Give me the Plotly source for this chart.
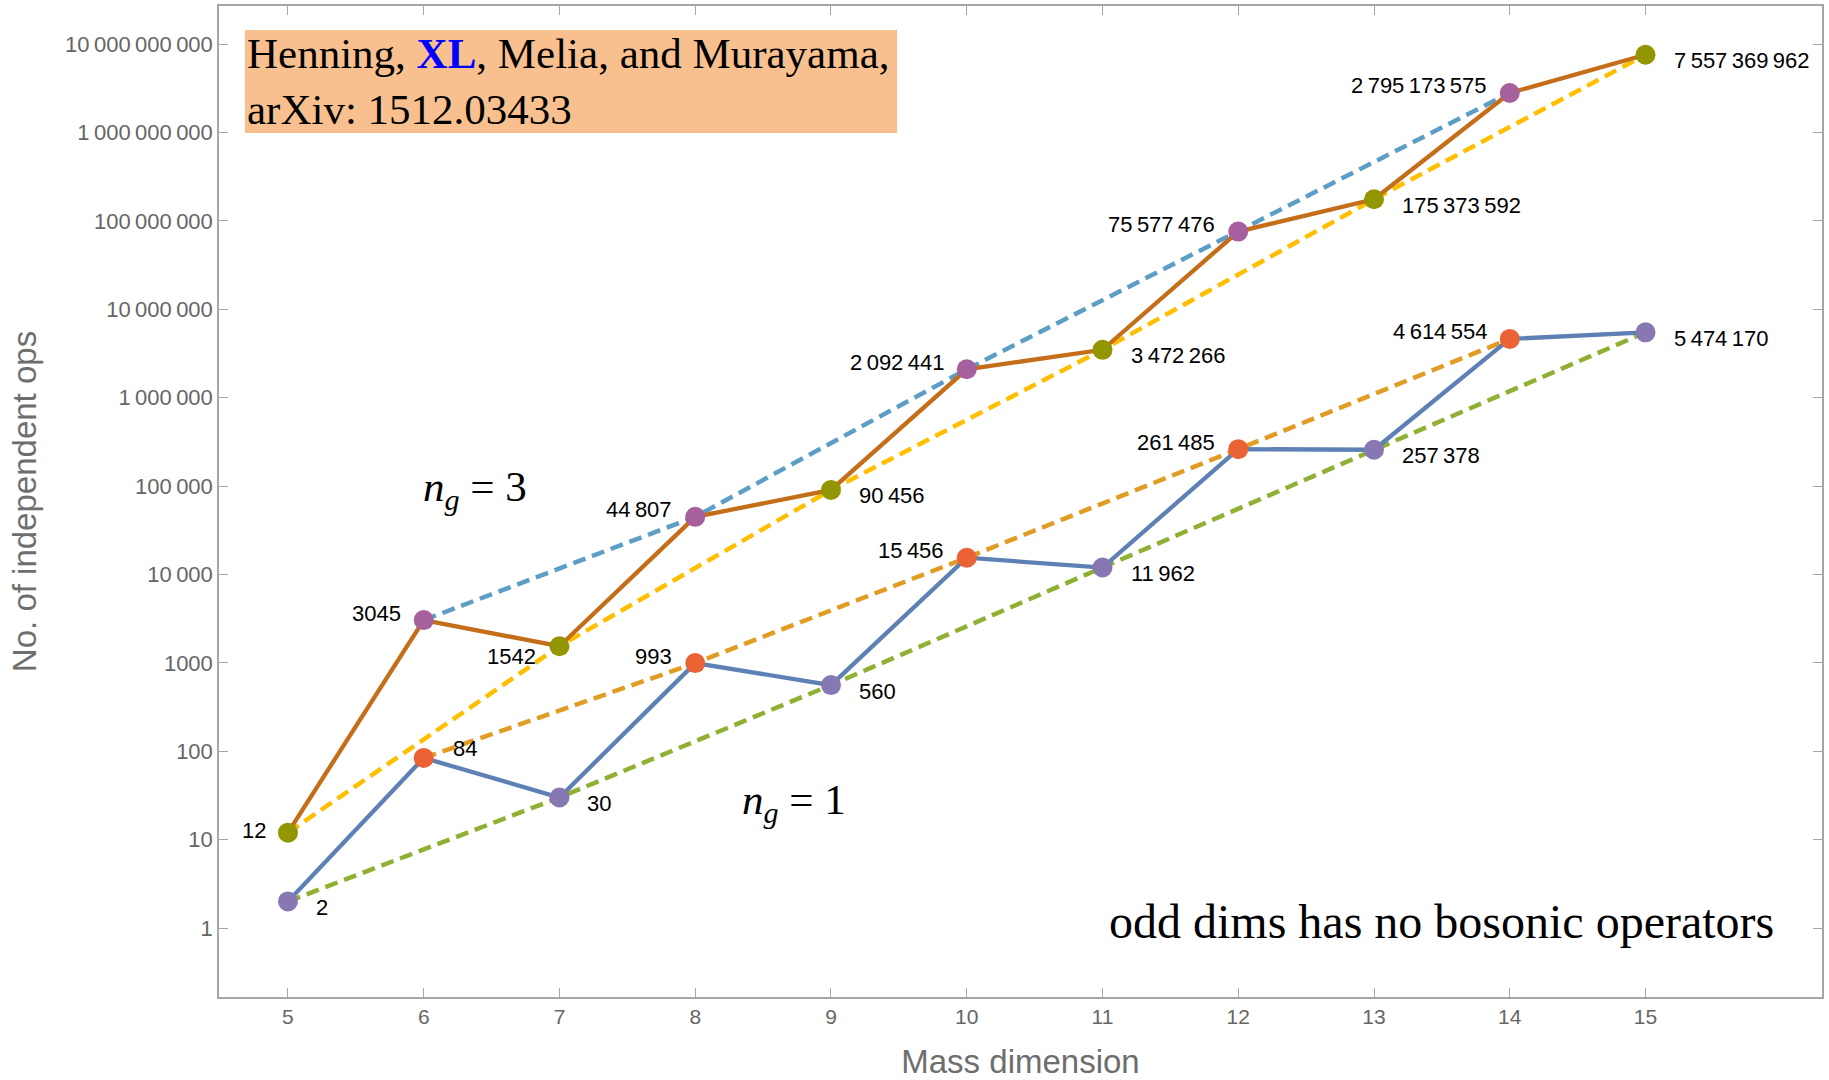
import math
import plotly.graph_objects as go

# ---------------- data ----------------
dims = [5, 6, 7, 8, 9, 10, 11, 12, 13, 14, 15]
ops_ng1 = [2, 84, 30, 993, 560, 15456, 11962, 261485, 257378, 4614554, 5474170]
ops_ng3 = [12, 3045, 1542, 44807, 90456, 2092441, 3472266, 75577476,
           175373592, 2795173575, 7557369962]
y_tick_values = [10 ** k for k in range(11)]
x_tick_values = dims

# label placement codes (style only)
pos_ng1 = ["br", "tr", "br", "tl", "br", "tl", "br", "tl", "br", "tl", "br"]
pos_ng3 = ["ml", "tl", "bl", "tl", "br", "tl", "br", "tl", "br", "tl", "br"]

SEP = "\u2009"


def fmt(n):
    s = str(int(n))
    if n < 10000:
        return s
    parts = []
    while s:
        parts.insert(0, s[-3:])
        s = s[:-3]
    return SEP.join(parts)


SANS = "Liberation Sans, Arial, sans-serif"
SERIF = "Liberation Serif, Times New Roman, serif"

C = {
    "blue": "#5E81B5", "orange": "#E19C24", "green": "#8FB032", "red": "#EB6235",
    "purple": "#8778B3", "brown": "#C56E1A", "lblue": "#5D9EC7", "yellow": "#FFBF00",
    "magenta": "#A5609D", "olive": "#929600",
}

fig = go.Figure()


def subset(xs, ys, parity):
    px = [x for x in xs if x % 2 == parity]
    py = [y for x, y in zip(xs, ys) if x % 2 == parity]
    return px, py


DASH = "13px,7px"
# dashed trend lines (even / odd dims)
for ys, col_even, col_odd in [(ops_ng1, C["orange"], C["green"]),
                              (ops_ng3, C["lblue"], C["yellow"])]:
    ex, ey = subset(dims, ys, 0)
    ox, oy = subset(dims, ys, 1)
    fig.add_trace(go.Scatter(x=ex, y=ey, mode="lines",
                             line=dict(color=col_even, width=4.5, dash=DASH),
                             showlegend=False, hoverinfo="skip"))
    fig.add_trace(go.Scatter(x=ox, y=oy, mode="lines",
                             line=dict(color=col_odd, width=4.5, dash=DASH),
                             showlegend=False, hoverinfo="skip"))

# solid joined lines
fig.add_trace(go.Scatter(x=dims, y=ops_ng1, mode="lines",
                         line=dict(color=C["blue"], width=4.3), showlegend=False))
fig.add_trace(go.Scatter(x=dims, y=ops_ng3, mode="lines",
                         line=dict(color=C["brown"], width=4.3), showlegend=False))

# markers
for ys, col_even, col_odd in [(ops_ng1, C["red"], C["purple"]),
                              (ops_ng3, C["magenta"], C["olive"])]:
    ex, ey = subset(dims, ys, 0)
    ox, oy = subset(dims, ys, 1)
    fig.add_trace(go.Scatter(x=ex, y=ey, mode="markers",
                             marker=dict(color=col_even, size=20), showlegend=False))
    fig.add_trace(go.Scatter(x=ox, y=oy, mode="markers",
                             marker=dict(color=col_odd, size=20), showlegend=False))

# value labels
OFFS = {
    "br": ("left", 26, -6),
    "tr": ("left", 27, 9),
    "tl": ("right", -21, 7),
    "ml": ("right", -20, 2),
    "bl": ("right", -21, -10),
}
annotations = []
for ys, poss in [(ops_ng1, pos_ng1), (ops_ng3, pos_ng3)]:
    for d, v, p in zip(dims, ys, poss):
        xa, dx, dy = OFFS[p]
        annotations.append(dict(
            x=d, y=math.log10(v), text=fmt(v), showarrow=False,
            xanchor=xa, yanchor="middle", xshift=dx, yshift=dy,
            font=dict(family=SANS, size=22, color="black")))

# text annotations
annotations.append(dict(
    x=6.38, y=4.96, xref="x", yref="y", showarrow=False,
    text="<i>n</i><sub><i>g</i></sub> = 3",
    font=dict(family=SERIF, size=43, color="black")))
annotations.append(dict(
    x=8.73, y=1.42, xref="x", yref="y", showarrow=False,
    text="<i>n</i><sub><i>g</i></sub> = 1",
    font=dict(family=SERIF, size=43, color="black")))
annotations.append(dict(
    x=13.5, y=0.07, xref="x", yref="y", showarrow=False,
    text="odd dims has no bosonic operators",
    font=dict(family=SERIF, size=48, color="black")))

# citation box
fig.add_shape(type="rect", xref="paper", yref="paper",
              x0=0.0162, x1=0.4230, y0=0.8719, y1=0.9758,
              fillcolor="#F9C08F", line=dict(width=0), layer="above")
annotations.append(dict(
    x=0.0162, y=0.9238, xref="paper", yref="paper", showarrow=False,
    xanchor="left", yanchor="middle", align="left",
    text="Henning, <b><span style='color:#0000FF'>XL</span></b>, Melia, and Murayama,<br>arXiv: 1512.03433",
    font=dict(family=SERIF, size=43, color="black")))

fig.update_layout(
    width=1829, height=1080,
    margin=dict(l=219, r=7, t=6, b=83, autoexpand=False),
    paper_bgcolor="white", plot_bgcolor="white",
    annotations=annotations,
    showlegend=False,
)

fig.update_xaxes(
    range=[4.492, 16.30], showgrid=False, zeroline=False, automargin=False,
    showline=True, linecolor="#A6A6A6", linewidth=1.5, mirror="ticks",
    ticks="inside", ticklen=9, tickcolor="#A6A6A6", tickwidth=1.2,
    tickvals=x_tick_values, ticktext=[str(v) for v in x_tick_values],
    tickfont=dict(family=SANS, size=21, color="#666666"),
    title=dict(text="Mass dimension", standoff=26,
               font=dict(family=SANS, size=33, color="#6E6E6E")),
)
fig.update_yaxes(
    type="log", range=[-0.78, 10.43], showgrid=False, zeroline=False, automargin=False,
    showline=True, linecolor="#A6A6A6", linewidth=1.5, mirror="ticks",
    ticks="inside", ticklen=9, tickcolor="#A6A6A6", tickwidth=1.2,
    tickvals=y_tick_values, ticktext=[fmt(v) for v in y_tick_values],
    tickfont=dict(family=SANS, size=22, color="#666666"),
    title=dict(text="No. of independent ops", standoff=18,
               font=dict(family=SANS, size=33, color="#6E6E6E")),
)

fig.write_html("out.html", config={"displayModeBar": False},
               post_script="document.body.style.margin='0';document.body.style.overflow='hidden';")
